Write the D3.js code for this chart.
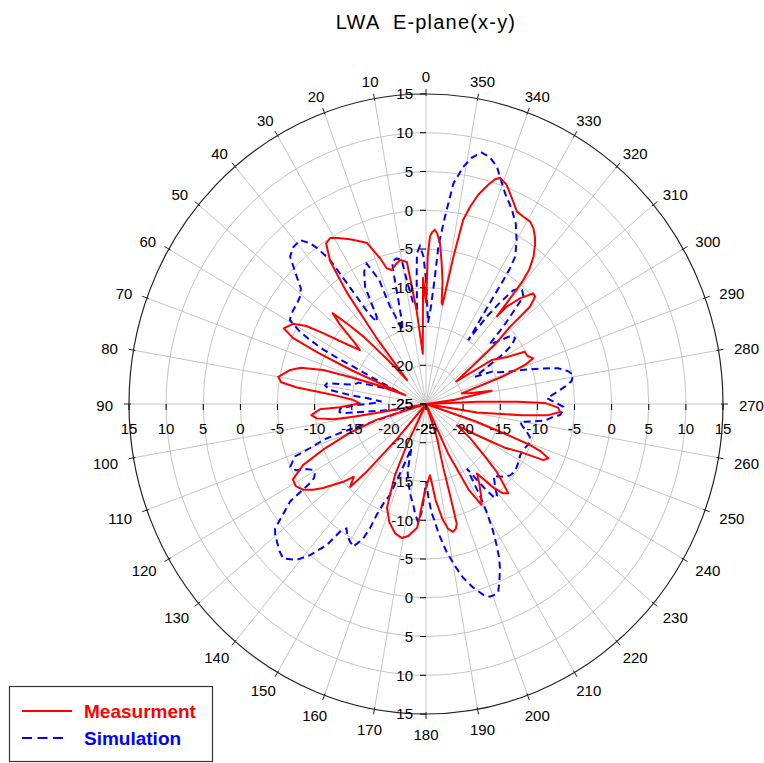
<!DOCTYPE html>
<html>
<head>
<meta charset="utf-8">
<script src="https://cdn.jsdelivr.net/npm/d3@7"></script>
<style>
body { margin: 0; background: #fff; }
text { font-family: Arial, "Liberation Sans", sans-serif; }
</style>
</head>
<body>
<svg id="chart" width="764" height="763"></svg>
<script>
// measured pattern: angle (deg, ccw from top) and gain (dB)
var measAngle = [0, 1.4, 3.8, 6, 8, 10.7, 13, 15, 16.8, 18.2, 21, 25.7, 29, 31, 33, 35, 36.5, 38, 39.5, 42,
	44, 45.5, 47, 48.5, 50.5, 52, 54, 56.6, 58, 60, 63, 64.6, 65.5, 66.5, 67.5, 69.5, 71.2, 72.4, 74.5, 76.5,
	80, 81.8, 83, 84, 85, 87, 89.4, 92.1, 92.7, 95.3, 97.2, 99, 99.5, 100, 101, 104, 107, 110, 113, 115.4,
	118.5, 121, 123.8, 126, 128, 132, 134, 136.3, 137.5, 139, 141, 152, 154, 155.5, 157.5, 158.6, 162, 166, 169.4, 172,
	175.7, 176.7, 178, 180.5, 183.4, 186, 188.5, 190.5, 192.4, 194, 195, 195.4, 195.8, 198.6, 200, 203, 205, 207.5, 209.9, 212,
	215, 217.4, 220, 222, 223.9, 225.5, 227.5, 230, 233.5, 236.5, 239.6, 242, 244, 245.4, 247, 248.5, 249.3, 250, 251.5, 253,
	258, 261, 263.6, 265, 266.7, 268.5, 270.5, 271.4, 272.5, 274, 278, 281, 283.5, 286, 289, 290.7, 292.2, 294.5, 296.9, 299,
	302.7, 305.5, 308, 309.5, 311.4, 311.6, 311.9, 313.3, 314.7, 317.1, 319.1, 319.8, 320.3, 320.6, 321.3, 322.7, 324.5, 325.8, 327.5, 329.2,
	331.5, 333.8, 335.5, 337.4, 339, 341.1, 342.2, 343.5, 345.4, 346.8, 348.1, 349, 349.6, 350.2, 350.8, 352, 353.5, 354.8, 356, 356.9,
	357.8, 358.6, 359.3, 359.7, 360];
var measGain = [-12, -8.7, -18.5, -12.8, -6.5, -6.1, -6.6, -7.1, -6.7, -5.2, -2.7, -1.4, -0.5, 0, -0.3, -2.5, -7, -14, -21, -17.5,
	-13, -10.4, -7.8, -9.5, -12.5, -13.7, -12, -8.4, -6, -4.3, -3.5, -5.2, -9, -14, -22, -18, -14.2, -10.5, -7.5, -6.2,
	-4.8, -5.3, -7.5, -11, -13, -15.2, -16.1, -13.4, -10.7, -9.5, -10.2, -12.4, -15.1, -19.2, -25, -25, -18, -14, -10, -6.7,
	-4.6, -4.5, -5.1, -6.2, -7.4, -10, -11.5, -10.2, -13, -19, -25, -25, -19, -15, -12.3, -10.6, -9, -7.8, -7.4, -7.8,
	-9, -10.5, -12.5, -14.5, -15.8, -12.5, -10, -8.6, -8.1, -8.4, -9, -12.8, -16.4, -20.4, -25, -25, -18, -12.5, -10, -11,
	-12.5, -13.7, -11, -9.5, -9, -10.5, -12.1, -15, -17.6, -20, -17.1, -13, -10.9, -7.6, -7.1, -8.5, -10, -13, -18, -25,
	-25, -18, -12, -8.5, -6.9, -7.2, -9, -12.6, -18, -25, -21, -16, -19, -20, -14, -10.75, -9.4, -10, -10.1, -12.5,
	-14.5, -20, -17, -13, -9.9, -8.1, -6.2, -4.8, -4.7, -6.4, -8.4, -10.2, -7.1, -4.65, -2.75, -1.1, 0.3, 1.1, 1.9, 2.4,
	2.5, 2.7, 3.5, 4.45, 5.3, 5.85, 5.45, 4.5, 2.9, 1.2, -0.7, -5.6, -9.6, -12, -11.8, -9, -6.5, -4.2, -3, -2.5,
	-2.8, -3.4, -6, -10, -12];

// simulated pattern
var simAngle = [0, 1, 2.3, 3.6, 4.5, 5.5, 7.5, 9.2, 10, 12, 14, 14.6, 15.5, 17, 18.5, 20, 21.1, 21.5, 23.8, 26,
	28.5, 30.5, 32, 33.5, 34.2, 34.8, 36, 37, 38.7, 41.4, 43.9, 46.7, 48.5, 50.8, 53, 55.8, 57.5, 59.4, 61.2, 62.1,
	63.1, 63.5, 63.8, 65, 67, 70, 73, 75.6, 78.7, 80, 82, 83.5, 84.5, 87, 89, 91, 93, 95, 96, 97,
	99, 102, 105, 107.5, 107.8, 108.5, 110, 111, 113.9, 116, 117.5, 119.3, 121, 122.3, 123.2, 124.5, 126.3, 128.3, 129.7, 131.5,
	134, 136, 139.1, 141.3, 143.7, 144.9, 146.3, 148, 150.1, 152, 154, 154.8, 155.1, 156, 157.5, 159, 161, 164, 167, 170,
	172.5, 174, 176, 177.5, 178.5, 180, 181.5, 183, 184, 186, 188.3, 190.5, 192.6, 195, 197.4, 199.1, 200.5, 201.9, 203.5, 205.2,
	206.5, 207.6, 209, 210.4, 211.5, 212.4, 213.5, 215, 216, 217.4, 219, 221, 223, 224.5, 226.7, 229, 230.9, 234, 238, 242.5,
	246, 249, 250.9, 253.2, 256, 258, 259.8, 261, 262.5, 264.5, 265.5, 267, 268.9, 270.5, 272.6, 274.5, 276.8, 278.5, 280.7, 282.5,
	284.5, 286.4, 288.8, 290.6, 293, 295.2, 298, 300, 302, 303.5, 305.3, 307, 308, 310, 312, 313.8, 314.9, 316.6, 318.7, 320,
	321.3, 322.7, 324, 325.3, 326.5, 326.9, 327.1, 327.7, 330, 332.5, 335.2, 338.6, 341, 342.7, 345, 347, 349, 350.7, 352.6, 354,
	355.3, 355.8, 357, 358.5, 360];
var simGain = [-9, -6, -4.6, -5.5, -9, -12.5, -11.9, -8.8, -6.1, -5.8, -6.1, -8, -11, -14, -15, -13, -11.5, -7.8, -5.2, -6,
	-7.8, -11.9, -12.5, -11, -7, -2.4, -0.2, 1.0, 2.1, 2.0, 1.4, -1.1, -2.5, -3.1, -3.3, -3.4, -3.5, -3.7, -5.6, -7.3,
	-9.5, -11.5, -14.1, -17.7, -21, -19, -15.5, -15, -11.4, -11.2, -11.9, -14.5, -17, -19, -18, -15.5, -13.4, -13.3, -13.6, -17,
	-20, -22, -22, -20, -13.3, -10.5, -8.4, -6.1, -5.0, -5.5, -6.8, -7.6, -7.5, -7.2, -6.3, -2.8, -1.2, 0.9, 1.4, 1.8,
	2.4, 2.7, 1.6, 0, -2.4, -4.9, -5.7, -5, -4.5, -4.15, -5.7, -7.3, -9.2, -11, -12.3, -16, -19, -16, -14.5, -13,
	-11.9, -10.8, -9.7, -11, -12.5, -15, -13, -11, -10.2, -8, -5.7, -3.8, -2, -0.5, 0.8, 1.3, 1.3, 1.1, -0.2, -1.6,
	-3, -4.5, -6.5, -8.9, -11, -13.1, -15, -13, -11.5, -9.7, -9.8, -10.8, -11.5, -12, -11.3, -10.8, -10.4, -10.2, -10.4, -10.7,
	-10.6, -10.3, -10.2, -10.4, -11.2, -11.8, -12.1, -10.5, -8.8, -7.8, -6.9, -6.6, -6.5, -7.5, -8.7, -7.6, -6.15, -5.2, -4.8, -5.4,
	-6.6, -8.75, -11.4, -13.2, -14.5, -15.2, -17.5, -15.5, -12.5, -11.1, -10.3, -10.4, -10.9, -12.5, -13.5, -10.6, -9, -5.9, -5.4, -5.6,
	-6.2, -8.5, -11, -15, -10, -6, -4.3, -2.5, -0.6, 1.2, 2.6, 4.2, 5.8, 7.1, 8.0, 8.3, 7.4, 6, 3.7, -0.8,
	-4.5, -8.5, -12.5, -14.5, -9];

var ringTicks = [15, 10, 5, 0, -5, -10, -15, -20, -25];
var gridRings = [10, 5, 0, -5, -10, -15, -20];
var angleTicks = d3.range(0, 360, 10);
var seriesNames = ["Measurment", "Simulation"];
var seriesColors = ["#ff0000", "#0000ff"];

var cx = 426, cy = 404;
var gridColor = "#c4c4c4";

// the plot is slightly taller than wide, so one radial scale per direction
var rX = d3.scaleLinear().domain([-25, 15]).range([0, 297]).clamp(true);
var rY = d3.scaleLinear().domain([-25, 15]).range([0, 310]).clamp(true);

function rad(a) { return a * Math.PI / 180; }
function px(a, v) { return cx - rX(v) * Math.sin(rad(a)); }
function py(a, v) { return cy - rY(v) * Math.cos(rad(a)); }

var svg = d3.select("#chart");
svg.append("rect").attr("width", 764).attr("height", 763).attr("fill", "#fff");

// title (keep the double space)
svg.append("text")
	.attr("x", cx).attr("y", 29)
	.attr("text-anchor", "middle")
	.attr("font-size", 20)
	.attr("letter-spacing", 1.2)
	.style("white-space", "pre")
	.text("LWA  E-plane(x-y)");

//************ GRID ************
var grid = svg.append("g").attr("class", "grid");

grid.selectAll("ellipse.ring")
	.data(gridRings)
	.enter().append("ellipse")
	.attr("class", "ring")
	.attr("cx", cx).attr("cy", cy)
	.attr("rx", function(d) { return rX(d); })
	.attr("ry", function(d) { return rY(d); })
	.attr("fill", "none")
	.attr("stroke", gridColor)
	.attr("stroke-width", 1);

grid.selectAll("line.spoke")
	.data(angleTicks)
	.enter().append("line")
	.attr("class", "spoke")
	.attr("x1", cx).attr("y1", cy)
	.attr("x2", function(d) { return px(d, 15); })
	.attr("y2", function(d) { return py(d, 15); })
	.attr("stroke", gridColor)
	.attr("stroke-width", 1);

// outer frame
svg.append("ellipse")
	.attr("cx", cx).attr("cy", cy)
	.attr("rx", rX(15)).attr("ry", rY(15))
	.attr("fill", "none")
	.attr("stroke", "#222")
	.attr("stroke-width", 1.2);

svg.selectAll("line.atick")
	.data(angleTicks)
	.enter().append("line")
	.attr("class", "atick")
	.attr("x1", function(d) { return cx - (rX(15) - 2) * Math.sin(rad(d)); })
	.attr("y1", function(d) { return cy - (rY(15) - 2) * Math.cos(rad(d)); })
	.attr("x2", function(d) { return cx - (rX(15) + 5) * Math.sin(rad(d)); })
	.attr("y2", function(d) { return cy - (rY(15) + 5) * Math.cos(rad(d)); })
	.attr("stroke", "#222")
	.attr("stroke-width", 1);

//************ CURVES ************
var line = d3.line()
	.x(function(d) { return px(d[0], d[1]); })
	.y(function(d) { return py(d[0], d[1]); });

var meas = d3.zip(measAngle, measGain);
var sim = d3.zip(simAngle, simGain);

svg.append("path")
	.datum(sim)
	.attr("d", line)
	.attr("fill", "none")
	.attr("stroke", seriesColors[1])
	.attr("stroke-width", 2)
	.attr("stroke-dasharray", "7,4.5");

svg.append("path")
	.datum(meas)
	.attr("d", line)
	.attr("fill", "none")
	.attr("stroke", seriesColors[0])
	.attr("stroke-width", 2)
	.attr("stroke-linejoin", "round");

//************ RADIAL AXES ************
var axes = svg.append("g").attr("class", "raxes").attr("font-size", 15);

// vertical axis, up and down
[-1, 1].forEach(function(s) {
	axes.selectAll(null)
		.data(ringTicks)
		.enter().append("line")
		.attr("x1", cx - 6).attr("x2", cx)
		.attr("y1", function(d) { return cy + s * rY(d); })
		.attr("y2", function(d) { return cy + s * rY(d); })
		.attr("stroke", "#000");
	axes.selectAll(null)
		.data(ringTicks)
		.enter().append("text")
		.attr("x", cx - 13)
		.attr("y", function(d) { return cy + s * rY(d); })
		.attr("dy", "0.36em")
		.attr("text-anchor", "end")
		.text(function(d) { return d; });
});

// horizontal axis, left and right
[-1, 1].forEach(function(s) {
	axes.selectAll(null)
		.data(ringTicks)
		.enter().append("line")
		.attr("y1", cy).attr("y2", cy + 6)
		.attr("x1", function(d) { return cx + s * rX(d); })
		.attr("x2", function(d) { return cx + s * rX(d); })
		.attr("stroke", "#000");
	axes.selectAll(null)
		.data(ringTicks)
		.enter().append("text")
		.attr("x", function(d) { return cx + s * rX(d); })
		.attr("y", cy + 30)
		.attr("text-anchor", "middle")
		.text(function(d) { return d; });
});

//************ ANGLE LABELS ************
svg.append("g").attr("font-size", 15)
	.selectAll("text")
	.data(angleTicks)
	.enter().append("text")
	.attr("text-anchor", "middle")
	.attr("dy", "0.36em")
	.attr("x", function(d) {
		var w = String(d).length * 8.3;
		return cx - (rX(15) + 16 + w / 2) * Math.sin(rad(d));
	})
	.attr("y", function(d) {
		return cy + 2 - (rY(15) + 19) * Math.cos(rad(d));
	})
	.text(function(d) { return d; });

//************ LEGEND ************
var legend = svg.append("g").attr("class", "legend");
legend.append("rect")
	.attr("x", 9.5).attr("y", 686.5)
	.attr("width", 203).attr("height", 75)
	.attr("fill", "#fff")
	.attr("stroke", "#333")
	.attr("stroke-width", 1.2);

seriesNames.forEach(function(name, i) {
	var y = 711 + i * 27;
	legend.append("line")
		.attr("x1", 22).attr("x2", i ? 67 : 72)
		.attr("y1", y).attr("y2", y)
		.attr("stroke", seriesColors[i])
		.attr("stroke-width", 2)
		.attr("stroke-dasharray", i ? "10,5.5" : null);
	legend.append("text")
		.attr("x", 84).attr("y", y + 7)
		.attr("font-size", 19)
		.attr("font-weight", "bold")
		.attr("fill", seriesColors[i])
		.text(name);
});
</script>
</body>
</html>
